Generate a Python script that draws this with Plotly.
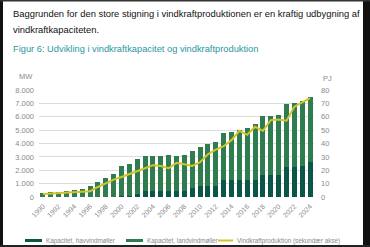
import plotly.graph_objects as go

years = list(range(1990, 2025))
offshore_mw = [0, 5, 5, 5, 5, 10, 10, 10, 10, 10, 40, 50, 210, 420, 420, 420, 420, 420, 420, 640,
               860, 860, 860, 1250, 1250, 1250, 1250, 1250, 1650, 1650, 1650, 2250, 2250, 2350, 2620]
total_mw = [280, 340, 390, 440, 510, 580, 800, 1100, 1400, 1700, 2300, 2460, 2860, 3070, 3080, 3090,
            3110, 3080, 3110, 3450, 3760, 3930, 4120, 4750, 4840, 5000, 5150, 5440, 6050, 6030, 6150,
            6950, 7050, 7150, 7450]
onshore_mw = [t - o for t, o in zip(total_mw, offshore_mw)]
production_pj = [2.2, 2.6, 2.9, 3.2, 3.5, 3.8, 4.3, 7.5, 10.5, 13.0, 15.0, 17.0, 19.5, 21.5, 23.8,
                 23.2, 21.5, 25.5, 24.5, 23.2, 26.0, 32.0, 35.5, 38.0, 42.5, 49.5, 46.5, 52.5, 49.5,
                 57.5, 58.0, 57.0, 67.5, 70.5, 74.0]
tick_years = list(range(1990, 2025, 2))
left_ticks = list(range(0, 8001, 1000))
right_ticks = list(range(0, 81, 10))

C_OFF = "#0b5549"
C_ON = "#2f7d4e"
C_LINE = "#d3c22a"
GRAY = "#8a8a8a"
FONT = "Liberation Sans"

W, H = 370, 247
L, R, T, B = 39, 56, 90, 50
PW, PH = W - L - R, H - T - B

def px(x):
    return (x - L) / PW

def py(y):
    return (H - B - y) / PH

fig = go.Figure()
fig.add_trace(go.Bar(x=years, y=offshore_mw, marker=dict(color=C_OFF, line=dict(width=0)),
                     name="Kapacitet, havvindmøller"))
fig.add_trace(go.Bar(x=years, y=onshore_mw, marker=dict(color=C_ON, line=dict(width=0)),
                     name="Kapacitet, landvindmøller"))
fig.add_trace(go.Scatter(x=years, y=production_pj, yaxis="y2", mode="lines",
                         line=dict(color=C_LINE, width=2), name="Vindkraftproduktion (sekundær akse)"))

shapes = []
annotations = []
# frame
shapes.append(dict(type="rect", xref="paper", yref="paper", x0=px(0), x1=px(3), y0=py(0), y1=py(H),
                   fillcolor="#111111", line=dict(width=0), layer="above"))
shapes.append(dict(type="rect", xref="paper", yref="paper", x0=px(363), x1=px(W), y0=py(0), y1=py(H),
                   fillcolor="#111111", line=dict(width=0), layer="above"))
shapes.append(dict(type="rect", xref="paper", yref="paper", x0=px(0), x1=px(W), y0=py(0), y1=py(1.5),
                   fillcolor="#333333", line=dict(width=0), layer="above"))
shapes.append(dict(type="rect", xref="paper", yref="paper", x0=px(0), x1=px(W), y0=py(245), y1=py(H),
                   fillcolor="#222222", line=dict(width=0), layer="above"))

# legend
ly = 240.5
shapes.append(dict(type="rect", xref="paper", yref="paper", x0=px(25), x1=px(42), y0=py(ly + 1.5), y1=py(ly - 1.5),
                   fillcolor=C_OFF, line=dict(width=0)))
shapes.append(dict(type="rect", xref="paper", yref="paper", x0=px(126), x1=px(143), y0=py(ly + 1.5), y1=py(ly - 1.5),
                   fillcolor=C_ON, line=dict(width=0)))
shapes.append(dict(type="line", xref="paper", yref="paper", x0=px(218), x1=px(233), y0=py(ly), y1=py(ly),
                   line=dict(color=C_LINE, width=2)))
for xs, txt in [(44, "Kapacitet, havvindmøller"), (145, "Kapacitet, landvindmøller"),
                (235, "Vindkraftproduktion (sekundær akse)")]:
    annotations.append(dict(xref="paper", yref="paper", x=px(xs), y=py(ly), xanchor="left", yanchor="middle",
                            text=txt, showarrow=False, font=dict(family=FONT, size=6.3, color=GRAY)))

# titles
annotations.append(dict(xref="paper", yref="paper", x=px(11), y=py(13), xanchor="left", yanchor="middle",
                        text="Baggrunden for den store stigning i vindkraftproduktionen er en kraftig udbygning af",
                        showarrow=False, font=dict(family=FONT, size=9.4, color="#111111")))
annotations.append(dict(xref="paper", yref="paper", x=px(11), y=py(29), xanchor="left", yanchor="middle",
                        text="vindkraftkapaciteten.", showarrow=False,
                        font=dict(family=FONT, size=9.4, color="#111111")))
annotations.append(dict(xref="paper", yref="paper", x=px(11), y=py(49), xanchor="left", yanchor="middle",
                        text="Figur 6: Udvikling i vindkraftkapacitet og vindkraftproduktion", showarrow=False,
                        font=dict(family=FONT, size=9.3, color="#2b97a0")))
annotations.append(dict(xref="paper", yref="paper", x=px(26), y=py(76), xanchor="center", yanchor="middle",
                        text="MW", showarrow=False, font=dict(family=FONT, size=7.5, color=GRAY)))
annotations.append(dict(xref="paper", yref="paper", x=px(327), y=py(78), xanchor="center", yanchor="middle",
                        text="PJ", showarrow=False, font=dict(family=FONT, size=7.5, color=GRAY)))

fig.update_layout(
    width=W, height=H,
    margin=dict(l=L, r=R, t=T, b=B),
    paper_bgcolor="white", plot_bgcolor="white",
    barmode="stack", bargap=0.38,
    showlegend=False,
    separators=",.",
    font=dict(family=FONT, size=7, color=GRAY),
    xaxis=dict(range=[1989.5, 2024.5], tickmode="array", tickvals=tick_years,
               ticktext=[str(y) for y in tick_years], tickangle=-45, showgrid=False,
               showline=False, zeroline=False, ticks="", ticklabelstandoff=3,
               tickfont=dict(size=7, color=GRAY)),
    yaxis=dict(range=[0, 8000], tickmode="array", tickvals=left_ticks, tickformat=",",
               showgrid=True, gridcolor="#dcdcdc", gridwidth=1, zeroline=False, showline=False,
               ticks="", ticklabelstandoff=4, tickfont=dict(size=7.5, color=GRAY)),
    yaxis2=dict(range=[0, 80], tickmode="array", tickvals=right_ticks, overlaying="y", side="right",
                showgrid=False, zeroline=False, showline=False, ticks="", ticklabelstandoff=6,
                tickfont=dict(size=7.5, color=GRAY)),
    shapes=shapes, annotations=annotations,
)

fig.write_html("out.html")
